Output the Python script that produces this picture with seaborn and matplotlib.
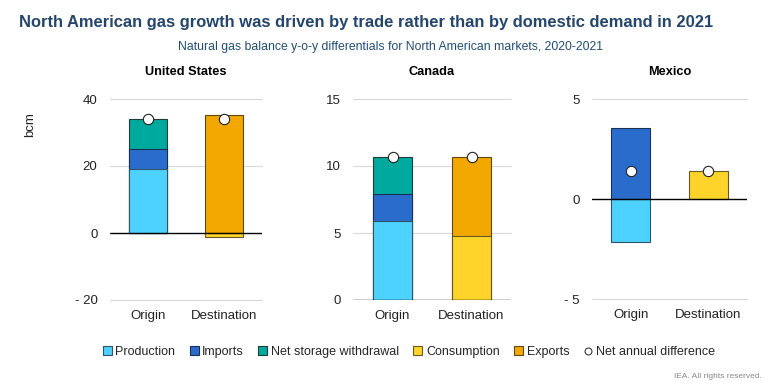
import numpy as np
import seaborn as sns
import matplotlib.pyplot as plt
from matplotlib.lines import Line2D
from matplotlib.patches import Patch

sns.set_theme(style='white')
plt.rcParams['font.family'] = ['Liberation Sans', 'DejaVu Sans']

# Data (bcm, y-o-y change 2020-2021)
paises = ['United States', 'Canada', 'Mexico']
lados = ['Origin', 'Destination']
produccion = [19.0, 5.9, -2.15]
importaciones = [6.0, 2.0, 3.55]
almacenamiento = [8.9, 2.8, 0.0]
consumo = [-1.3, 4.75, 1.4]
exportaciones = [35.2, 5.95, 0.0]

ylims = [(-20, 40), (0, 15), (-5, 5)]
yticks = [[-20, 0, 20, 40], [0, 5, 10, 15], [-5, 0, 5]]

colores = {
    'Production': '#4dd2ff',
    'Imports': '#2a6ccb',
    'Net storage withdrawal': '#00a99d',
    'Consumption': '#ffd42a',
    'Exports': '#f2a800',
}
bordes = {
    'Production': '#2c5566',
    'Imports': '#1b3055',
    'Net storage withdrawal': '#1d3d3a',
    'Consumption': '#665a20',
    'Exports': '#5e4a10',
}

W, H = 773, 384
fig = plt.figure(figsize=(W / 100, H / 100), dpi=100)

# axes boxes in pixels: left, right, top, bottom
cajas = [(110, 262, 99, 300), (353, 511, 99, 300), (592, 747, 99, 299)]


def apilar(ax, lado, nombres, valores):
    # positive and negative stacks drawn by overlapping cumulative bars
    v = np.array(valores)
    pos = np.cumsum(np.clip(v, 0, None))
    neg = np.cumsum(np.clip(v, None, 0))
    for i in range(len(v) - 1, -1, -1):
        if v[i] == 0:
            continue
        h = pos[i] if v[i] > 0 else neg[i]
        sns.barplot(x=[lado], y=[h], order=lados, color=colores[nombres[i]],
                    saturation=1, width=0.5, edgecolor=bordes[nombres[i]],
                    linewidth=0.8, ax=ax, zorder=3)


for k, pais in enumerate(paises):
    l, r, t, b = cajas[k]
    ax = fig.add_axes([l / W, 1 - b / H, (r - l) / W, (b - t) / H])
    origen = [produccion[k], importaciones[k], almacenamiento[k]]
    destino = [consumo[k], exportaciones[k]]
    apilar(ax, 'Origin', ['Production', 'Imports', 'Net storage withdrawal'], origen)
    apilar(ax, 'Destination', ['Consumption', 'Exports'], destino)
    neto = [sum(origen), sum(destino)]
    sns.scatterplot(x=[0, 1], y=neto, s=55, color='white', edgecolor='#222222',
                    linewidth=0.8, ax=ax, zorder=5, legend=False)

    ax.set_xlim(-0.5, 1.5)
    ax.set_ylim(*ylims[k])
    ax.set_yticks(yticks[k])
    ax.set_yticklabels([('- %d' % abs(t_)) if t_ < 0 else '%d' % t_ for t_ in yticks[k]])
    for t_ in yticks[k]:
        if t_ != 0:
            ax.axhline(t_, color='#d9d9d9', lw=0.8, zorder=0, clip_on=False)
    ax.axhline(0, color='black', lw=1.0, zorder=4)
    sns.despine(ax=ax, left=True, bottom=True)
    ax.tick_params(axis='both', length=0, labelsize=9.5, colors='#222222')
    ax.tick_params(axis='x', pad=7)
    ax.tick_params(axis='y', pad=9)
    ax.set_xlabel('')
    ax.set_ylabel('')
    ax.set_title(pais, fontsize=9.2, fontweight='bold', color='black', pad=17)
    ax.grid(False)

fig.text(30 / W, 1 - 125 / H, 'bcm', rotation=90, fontsize=9.5, color='#222222',
         ha='center', va='center')

fig.text(19 / W, 1 - 22 / H,
         'North American gas growth was driven by trade rather than by domestic demand in 2021',
         fontsize=11.9, fontweight='bold', color='#24466e', ha='left', va='center')
fig.text(391 / W, 1 - 47 / H,
         'Natural gas balance y-o-y differentials for North American markets, 2020-2021',
         fontsize=8.8, color='#1f4e79', ha='center', va='center')

handles = [Patch(facecolor=c, edgecolor=bordes[n], linewidth=0.8, label=n)
           for n, c in colores.items()]
handles.append(Line2D([], [], marker='o', linestyle='none', markerfacecolor='white',
                      markeredgecolor='#222222', markeredgewidth=0.7, markersize=5,
                      label='Net annual difference'))
fig.legend(handles=handles, loc='center', bbox_to_anchor=(409 / W, 1 - 352 / H),
           ncol=6, frameon=False, fontsize=9, handlelength=0.7, handleheight=0.7,
           handletextpad=0.3, columnspacing=1.15)

fig.text(762 / W, 1 - 376 / H, 'IEA. All rights reserved.', fontsize=6,
         color='#888888', ha='right', va='center')

plt.savefig('out.png', dpi=100)
